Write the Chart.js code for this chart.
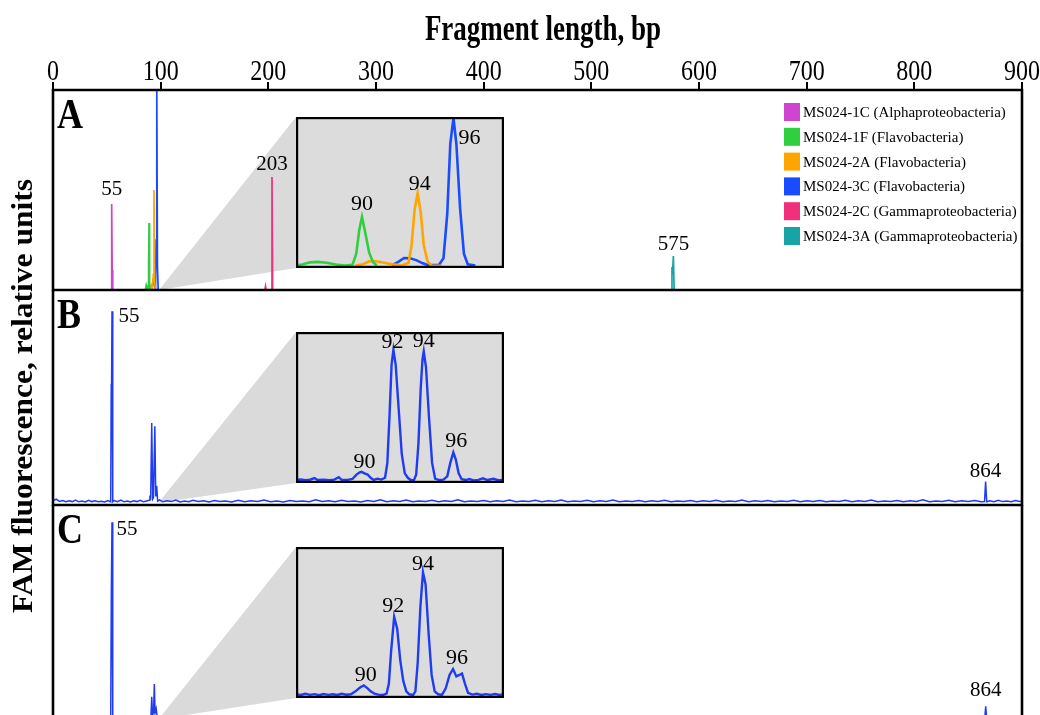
<!DOCTYPE html>
<html><head><meta charset="utf-8">
<script src="https://cdn.jsdelivr.net/npm/chart.js@4.4.0/dist/chart.umd.min.js"></script>
<style>
html,body{margin:0;padding:0;background:#fff;overflow:hidden;}
#wrap{position:relative;width:1040px;height:715px;overflow:hidden;background:#fff;}
canvas{position:absolute;}
</style></head><body>
<div id="wrap">
<canvas id="cA" width="1040" height="715" style="left:0;top:0"></canvas>
<canvas id="cB" width="1040" height="217" style="left:0;top:290px"></canvas>
<canvas id="cC" width="1040" height="210" style="left:0;top:505px"></canvas>
<canvas id="iA" width="208" height="151" style="left:296px;top:117px"></canvas>
<canvas id="iB" width="208" height="151" style="left:296px;top:332px"></canvas>
<canvas id="iC" width="208" height="151" style="left:296px;top:547px"></canvas>
</div>
<script>
// ---------------- DATA ----------------
const BP_TICKS = [0,100,200,300,400,500,600,700,800,900];
const X_TITLE = 'Fragment length, bp';
const Y_TITLE = 'FAM fluorescence, relative units';
const PANEL_LETTERS = ['A','B','C'];
const SPECIES = ['MS024-1C (Alphaproteobacteria)','MS024-1F (Flavobacteria)','MS024-2A (Flavobacteria)','MS024-3C (Flavobacteria)','MS024-2C (Gammaproteobacteria)','MS024-3A (Gammaproteobacteria)'];

// Panel A traces [bp, relative units]
const A_1C = [[30,0],[54.2,0],[54.4,12],[54.6,43],[55.0,10],[55.5,0],[80,0]];
const A_1F = [[80,0],[85.8,0],[86.6,2.5],[87.3,1.2],[88.3,0],[88.8,14],[89.2,33.5],[89.7,4],[90.2,0],[100,0]];
const A_2A = [[86,0],[90.2,0],[91,1.5],[92.3,0.5],[93.2,8],[93.8,50],[94.4,4],[95.2,0],[100,0]];
const A_3C = [[88,0],[91.8,0],[92.7,4.5],[93.4,5.5],[94.2,2],[95.2,0.5],[95.8,25],[96.4,102],[97.0,12],[97.7,0],[105,0]];
const A_2C = [[180,0],[196.8,0],[197.4,1.8],[198,0],[202.8,0],[203.4,56.5],[204,0],[220,0]];
const A_3A = [[560,0],[574.3,0],[574.9,11.5],[575.4,8],[576.2,17],[576.9,0],[590,0]];

// Panel A inset traces
const IN_A_1F = [[85.58,0.3],[86.0,0.8],[86.5,2.3],[87.0,2.6],[87.6,2.0],[88.2,0.8],[88.8,0.2],[89.3,0.6],[89.55,8],[89.75,24],[89.93,32.8],[90.15,22],[90.4,9],[90.65,2.5],[90.9,0.2]];
const IN_A_2A = [[89.5,0.2],[90.0,1],[90.4,3],[90.8,3.2],[91.3,2.2],[91.9,1],[92.6,0.3],[93.0,2],[93.2,14],[93.4,38],[93.6,48.9],[93.8,36],[94.0,14],[94.25,3],[94.5,0.2],[95.2,0]];
const IN_A_3C = [[91.9,0.2],[92.3,2.5],[92.7,5.2],[93.1,5],[93.5,3.8],[93.9,1.8],[94.3,0.3],[95.0,0.6],[95.3,5],[95.55,35],[95.75,82],[95.96,99.3],[96.15,82],[96.4,38],[96.65,8],[96.9,1],[97.4,0.2]];

// Panel B trace
const TRACE_B = [[0,0.9],[3,1.8],[6,0.7],[9,1.1],[12,0.5],[15,1.0],[18,0.6],[21,1.3],[24,0.5],[27,0.9],[30,0.4],[33,1.2],[36,0.6],[39,1.0],[42,0.5],[45,0.8],[48,0.4],[51,1.1],[53.6,0.5],[54.1,56],[54.4,54],[54.8,90],[55.5,0.5],[57,1.1],[60,0.6],[63,1.3],[66,0.5],[69,0.9],[72,0.4],[75,1.0],[78,0.6],[81,1.2],[84,0.5],[87,0.9],[89.3,1.2],[90.0,3.5],[90.7,1.5],[91.7,37.5],[92.6,1.8],[93.3,2.5],[94.6,36],[95.4,3],[96.3,8],[97.2,0.8],[99,1.4],[102,0.5],[106,1.0],[110,0.6],[114,1.3],[118,0.4],[122,0.9],[126,0.5],[130,1.2],[135,0.6],[140,1.0],[145,0.4],[150,1.1],[155,0.6],[160,0.9],[166,0.4],[172,1.2],[178,0.5],[184,1.0],[190,0.6],[196,1.3],[202,0.5],[208,0.9],[214,0.4],[220,1.1],[226,0.6],[232,0.9],[238,0.5],[244,1.4],[250,0.6],[256,1.0],[262,0.5],[268,1.2],[274,0.6],[280,0.9],[286,0.4],[292,1.1],[298,0.7],[304,1.5],[310,0.5],[316,1.0],[322,0.6],[328,1.3],[334,0.5],[340,0.9],[346,0.6],[352,1.2],[358,0.5],[364,1.0],[370,0.7],[376,1.4],[382,0.5],[388,0.9],[394,0.6],[400,1.1],[406,0.5],[412,1.0],[418,0.6],[424,1.3],[430,0.5],[436,0.9],[442,0.6],[448,1.2],[454,0.5],[460,1.0],[466,0.7],[472,1.3],[478,0.5],[484,0.9],[490,0.6],[496,1.2],[502,0.5],[508,1.0],[514,0.6],[520,1.3],[526,0.5],[532,0.9],[538,0.6],[544,1.1],[550,0.5],[556,1.0],[562,0.7],[568,1.2],[574,0.5],[580,0.9],[586,0.6],[592,1.1],[598,0.5],[604,1.0],[610,0.6],[616,1.2],[622,0.5],[628,0.9],[634,0.6],[640,1.3],[646,0.5],[652,1.0],[658,0.6],[664,1.1],[670,0.5],[676,0.9],[682,0.7],[688,1.2],[694,0.5],[700,1.0],[706,0.6],[712,1.1],[718,0.5],[724,0.9],[730,0.6],[736,1.2],[742,0.5],[748,1.0],[754,0.7],[760,1.3],[766,0.5],[772,0.9],[778,0.6],[784,1.1],[790,0.5],[796,1.0],[802,0.6],[808,1.4],[814,0.5],[820,0.9],[826,0.6],[832,1.2],[838,0.5],[844,1.0],[850,0.6],[856,1.1],[862,0.5],[865.2,0.6],[866.2,10],[867.2,0.5],[870,1.0],[874,0.5],[878,1.2],[882,0.6],[886,0.9],[890,0.5],[894,1.1],[898,0.6],[900,0.9]];
const IN_B = [[85.58,0.5],[85.9,0.8],[86.2,0.4],[86.5,0.7],[86.8,1.8],[87.0,0.5],[87.4,0.7],[87.8,0.4],[88.1,0.8],[88.4,2.4],[88.6,0.5],[89.0,0.6],[89.3,1.2],[89.55,4],[89.75,5.5],[89.9,6],[90.1,5],[90.3,4.2],[90.5,2],[90.7,0.6],[90.95,1.4],[91.2,0.8],[91.45,2],[91.6,12],[91.75,45],[91.88,78],[92.0,88],[92.15,78],[92.35,48],[92.55,18],[92.75,5],[92.95,2],[93.15,0.5],[93.35,0.3],[93.5,4],[93.65,25],[93.8,62],[93.92,82],[94.0,87],[94.15,76],[94.35,42],[94.55,12],[94.75,1.5],[95.0,0.5],[95.3,0.8],[95.55,3],[95.75,12],[95.95,19],[96.12,14],[96.3,5],[96.5,1],[96.8,0.5],[97.0,1.2],[97.3,0.3],[97.6,0.6],[97.9,1.6],[98.2,0.5],[98.6,1.3],[98.9,0.4],[99.29,0.6]];

// Panel C trace
const TRACE_C = [[0,0.8],[20,1.2],[40,0.6],[53.6,0.5],[54.2,60],[54.8,92],[55.5,0.5],[70,1.0],[88,1.2],[91.0,1.5],[91.7,10.5],[92.4,2],[93.4,3],[94.1,16.5],[94.8,3],[95.8,5],[96.8,1],[120,1.1],[200,0.7],[300,1.2],[400,0.6],[500,1.1],[600,0.7],[700,1.2],[800,0.6],[865.4,0.5],[866.3,6],[867.2,0.5],[900,1.0]];
const IN_C = [[85.58,1],[85.9,0.5],[86.2,1.3],[86.5,0.6],[86.8,1.1],[87.1,0.4],[87.4,1.2],[87.7,0.6],[88.0,1.0],[88.3,0.5],[88.6,1.3],[88.9,0.7],[89.2,1.0],[89.5,3],[89.8,5.5],[90.05,7],[90.3,5],[90.5,3],[90.75,1.5],[91.0,0.8],[91.3,0.5],[91.55,1.5],[91.7,8],[91.85,30],[92.05,53],[92.25,45],[92.45,24],[92.65,10],[92.85,3],[93.05,1],[93.3,0.5],[93.45,3],[93.6,22],[93.78,60],[93.95,83],[94.12,75],[94.32,42],[94.52,14],[94.72,3],[94.95,1],[95.2,0.6],[95.45,5],[95.7,14],[95.93,18],[96.15,13],[96.35,14],[96.52,15],[96.72,8],[96.92,2],[97.2,0.8],[97.5,1.3],[97.8,0.5],[98.1,1.1],[98.4,0.6],[98.7,1.2],[99.0,0.5],[99.29,1]];

// Peak labels [text, bp, peak height]
const PEAKS_A = [['55',54.6,43],['203',203.4,56.5],['575',576.2,17]];
const PEAKS_A_IN = [['90',89.93,32.8],['94',93.6,48.9],['96',95.96,99.3]];
const PEAKS_B = [['55',54.8,90],['864',866.2,10]];
const PEAKS_B_IN = [['90',89.9,6],['92',92.0,88],['94',94.0,87],['96',95.95,19]];
const PEAKS_C = [['55',54.8,92],['864',866.3,6]];
const PEAKS_C_IN = [['90',90.05,7],['92',92.05,53],['94',93.95,83],['96',95.93,18]];

// ---------------- STYLE ----------------
const SERIF = '"Liberation Serif", "Times New Roman", serif';
const SPECIES_COLORS = ['#cf45cf','#2fcf3f','#ffa500','#1a4cff','#f0307a','#18a4a4'];
const TRACE_BLUE = '#1f3cf2';
const GREY = '#dadada';
const OFF_A = [[0,-15],[0,-13],[0,-12]];
const OFF_A_IN = [[0,-13],[2,-8.5],[16,20]];
const OFF_B = [[17,5],[0,-10]];
const OFF_B_IN = [[3,-10],[-1,-8],[0,-10],[3,-11]];
const OFF_C = [[15,7],[0,-16]];
const OFF_C_IN = [[2,-10],[-1,-11],[0,-8],[4,-11]];
const INSET_X = [85.58, 99.29];

Chart.defaults.font.family = SERIF;
Chart.defaults.color = '#000';

const toXY = a => a.map(([x,y]) => ({x, y}));
const mkLabels = (peaks, offs) => peaks.map((p,i) => ({text:p[0], x:p[1], y:p[2], dx:offs[i][0], dy:offs[i][1]}));

function stretchedText(c, text, x, y, font, sy, align) {
  c.save();
  c.font = font; c.textAlign = align || 'center'; c.textBaseline = 'alphabetic';
  c.translate(x, y); c.scale(1, sy);
  c.fillText(text, 0, 0);
  c.restore();
}

const decor = {
  id: 'decor',
  beforeDraw(chart, a, o) {
    if (o && o.bg) { const c = chart.ctx; c.save(); c.fillStyle = o.bg; c.fillRect(0,0,chart.width,chart.height); c.restore(); }
  },
  beforeDatasetsDraw(chart, a, o) {
    if (!o || !o.wedge) return;
    const c = chart.ctx, xs = chart.scales.x, ys = chart.scales.y, w = o.wedge;
    c.save();
    c.fillStyle = w.color;
    c.beginPath();
    c.moveTo(xs.getPixelForValue(w.apex), ys.getPixelForValue(0));
    c.lineTo(w.box.x, w.box.y - o.offsetY);
    c.lineTo(w.box.x, w.box.y + w.box.h - o.offsetY);
    c.closePath(); c.fill();
    c.restore();
  },
  afterDatasetsDraw(chart, a, o) {
    if (!o) return;
    const c = chart.ctx, ca = chart.chartArea, xs = chart.scales.x, ys = chart.scales.y;
    c.save();
    c.fillStyle = '#000'; c.strokeStyle = '#000';
    if (o.frame) {
      const f = o.frame, h = f.width / 2;
      c.lineWidth = f.width; c.lineCap = 'butt';
      c.beginPath();
      if (f.top) { c.moveTo(ca.left - h, ca.top); c.lineTo(ca.right + h, ca.top); }
      if (f.bottom) { c.moveTo(ca.left - h, ca.bottom); c.lineTo(ca.right + h, ca.bottom); }
      if (f.left) { c.moveTo(ca.left, ca.top - (f.top ? h : 0)); c.lineTo(ca.left, ca.bottom + h); }
      if (f.right) { c.moveTo(ca.right, ca.top - (f.top ? h : 0)); c.lineTo(ca.right, ca.bottom + h); }
      c.stroke();
    }
    if (o.box) { c.lineWidth = o.box; c.strokeRect(o.box/2, o.box/2, chart.width - o.box, chart.height - o.box); }
    if (o.axisText) {
      const t = o.axisText;
      xs.ticks.forEach(tk => stretchedText(c, String(tk.value), xs.getPixelForValue(tk.value), t.tickBase, t.tickFont, t.tickSY));
      stretchedText(c, t.title, t.titleX, t.titleBase, t.titleFont, t.titleSY);
    }
    if (o.letter) {
      stretchedText(c, o.letter.text, o.letter.x, o.letter.base, 'bold 36px ' + SERIF, 1.18, 'left');
    }
    if (o.labels) {
      c.font = o.labelFont; c.textAlign = 'center'; c.textBaseline = 'middle';
      o.labels.forEach(l => c.fillText(l.text, xs.getPixelForValue(l.x) + l.dx, ys.getPixelForValue(l.y) + l.dy));
    }
    if (o.legend) {
      const L = o.legend;
      c.font = L.font; c.textAlign = 'left'; c.textBaseline = 'middle';
      chart.data.datasets.forEach((ds, i) => {
        const y = L.y0 + i * L.dy;
        c.fillStyle = ds.borderColor; c.fillRect(L.x, y - L.sh/2, L.sw, L.sh);
        c.fillStyle = '#000'; c.fillText(ds.label, L.tx, y + 1);
      });
    }
    if (o.yTitle) {
      const t = o.yTitle;
      c.save();
      c.translate(t.x, t.y); c.rotate(-Math.PI/2); c.scale(t.sx, 1);
      c.font = t.font; c.textAlign = 'center'; c.textBaseline = 'middle'; c.fillStyle = '#000';
      c.fillText(t.text, 0, 0);
      c.restore();
    }
    c.restore();
  }
};
Chart.register(decor);

const base = (padding, xr, yr, decorOpts, xOpts) => ({
  responsive: false, animation: false, devicePixelRatio: 1,
  layout: { padding },
  scales: {
    x: Object.assign({ type: 'linear', min: xr[0], max: xr[1], display: false }, xOpts || {}),
    y: { type: 'linear', min: yr[0], max: yr[1], display: false }
  },
  plugins: { legend: { display: false }, tooltip: { enabled: false }, decor: decorOpts },
  elements: { point: { radius: 0 }, line: { tension: 0 } }
});
const line = (label, data, color, width) => ({ label, data: toXY(data), borderColor: color, backgroundColor: color, borderWidth: width, pointRadius: 0, fill: false, clip: 0 });

// ---------- Panel A (with top axis, titles, legend) ----------
const A_TRACES = [A_1C, A_1F, A_2A, A_3C, A_2C, A_3A];
new Chart(document.getElementById('cA'), {
  type: 'line',
  data: { datasets: SPECIES.map((s, i) => line(s, A_TRACES[i], SPECIES_COLORS[i], 1.7)) },
  options: base({left:53, right:18, top:0, bottom:425}, [0,900], [0,100], {
    frame: {width: 2.6, top: true, bottom: true, left: true, right: true},
    letter: {text: PANEL_LETTERS[0], x: 57, base: 128},
    labels: mkLabels(PEAKS_A, OFF_A), labelFont: '21px ' + SERIF,
    wedge: {apex: 98.5, box: {x: 296, y: 117, h: 151}, color: GREY}, offsetY: 0,
    legend: {x: 784, y0: 112, dy: 24.8, sw: 16, sh: 18, tx: 803, font: '15px ' + SERIF},
    yTitle: {text: Y_TITLE, x: 24, y: 396, font: 'bold 30px ' + SERIF, sx: 1.05},
    axisText: {tickFont: '24px ' + SERIF, tickBase: 79.5, tickSY: 1.25,
               title: X_TITLE, titleFont: 'bold 27px ' + SERIF, titleX: 543, titleBase: 40, titleSY: 1.3}
  }, {
    display: true, position: 'top',
    afterBuildTicks: s => { s.ticks = BP_TICKS.map(v => ({value: v})); },
    afterFit: s => { s.height = 90; s.paddingLeft = 0; s.paddingRight = 0; },
    grid: {drawOnChartArea: false, drawTicks: true, tickLength: 8, color: '#000', lineWidth: 2},
    border: {display: false},
    ticks: {display: false},
    title: {display: false}
  })
});

// ---------- Panel B ----------
new Chart(document.getElementById('cB'), {
  type: 'line',
  data: { datasets: [line('B', TRACE_B, TRACE_BLUE, 1.5)] },
  options: base({left:53, right:18, top:0, bottom:2}, [0,900], [-1,100], {
    frame: {width: 2.6, top: false, bottom: true, left: true, right: true},
    letter: {text: PANEL_LETTERS[1], x: 57, base: 38},
    labels: mkLabels(PEAKS_B, OFF_B), labelFont: '21px ' + SERIF,
    wedge: {apex: 98, box: {x: 296, y: 332, h: 151}, color: GREY}, offsetY: 290
  })
});

// ---------- Panel C ----------
new Chart(document.getElementById('cC'), {
  type: 'line',
  data: { datasets: [line('C', TRACE_C, TRACE_BLUE, 1.5)] },
  options: base({left:53, right:18, top:0, bottom:0}, [0,900], [2,100], {
    frame: {width: 2.6, top: false, bottom: false, left: true, right: true},
    letter: {text: PANEL_LETTERS[2], x: 57, base: 38},
    labels: mkLabels(PEAKS_C, OFF_C), labelFont: '21px ' + SERIF,
    wedge: {apex: 98, box: {x: 296, y: 547, h: 151}, color: GREY}, offsetY: 505
  })
});

// ---------- Insets ----------
new Chart(document.getElementById('iA'), {
  type: 'line',
  data: { datasets: [
    line(SPECIES[1], IN_A_1F, SPECIES_COLORS[1], 2.6),
    line(SPECIES[2], IN_A_2A, SPECIES_COLORS[2], 2.6),
    line(SPECIES[3], IN_A_3C, SPECIES_COLORS[3], 2.6)
  ] },
  options: base(0, INSET_X, [-1.5,100], {bg: '#dcdcdc', box: 2.2, labels: mkLabels(PEAKS_A_IN, OFF_A_IN), labelFont: '22px ' + SERIF})
});
new Chart(document.getElementById('iB'), {
  type: 'line',
  data: { datasets: [line('B inset', IN_B, TRACE_BLUE, 2.4)] },
  options: base(0, INSET_X, [-1.5,100], {bg: '#dcdcdc', box: 2.2, labels: mkLabels(PEAKS_B_IN, OFF_B_IN), labelFont: '22px ' + SERIF})
});
new Chart(document.getElementById('iC'), {
  type: 'line',
  data: { datasets: [line('C inset', IN_C, TRACE_BLUE, 2.4)] },
  options: base(0, INSET_X, [-1.5,100], {bg: '#dcdcdc', box: 2.2, labels: mkLabels(PEAKS_C_IN, OFF_C_IN), labelFont: '22px ' + SERIF})
});
</script>
</body></html>
